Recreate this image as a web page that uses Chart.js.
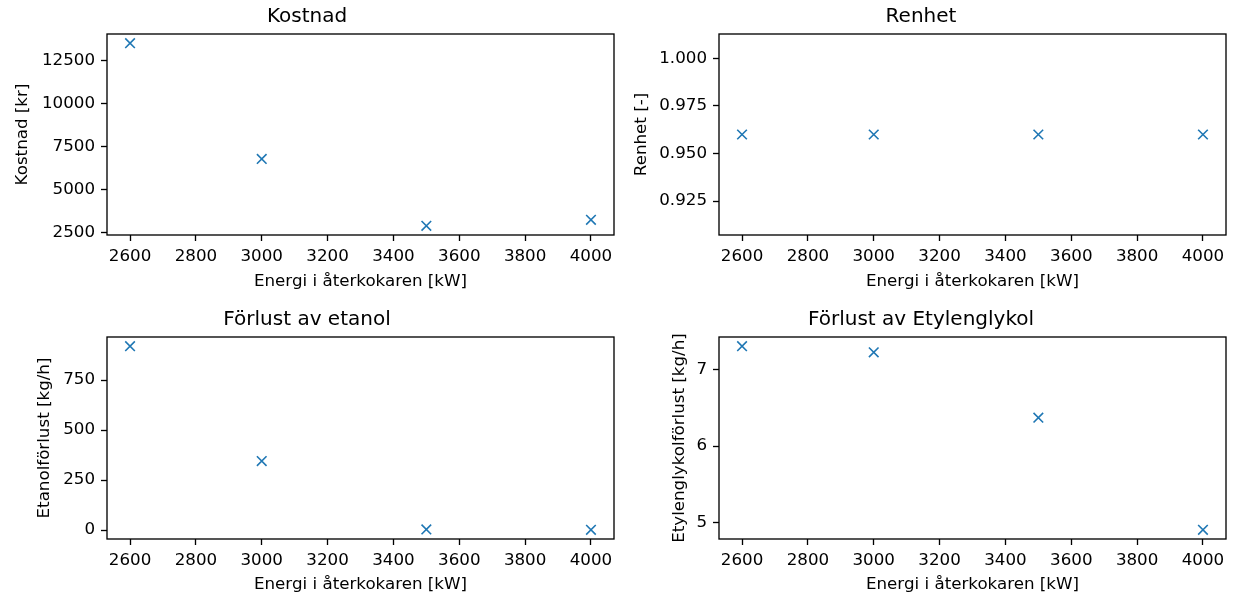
<!DOCTYPE html>
<html>
<head>
<meta charset="utf-8">
<script src="https://cdn.jsdelivr.net/npm/chart.js@4.4.0/dist/chart.umd.min.js"></script>
<style>
  body { margin: 0; background: #fff; width: 1233px; height: 598px; position: relative; overflow: hidden; }
  canvas { position: absolute; }
</style>
</head>
<body>
<canvas id="kostnad" width="616" height="299" style="left:0;top:0"></canvas>
<canvas id="renhet" width="617" height="299" style="left:616px;top:0"></canvas>
<canvas id="etanol" width="616" height="295" style="left:0;top:303px"></canvas>
<canvas id="glykol" width="617" height="295" style="left:616px;top:303px"></canvas>
<script>
// energy in the reboiler, shared x values for all four panels
const energi = [2600, 3000, 3500, 4000];
const kostnad = [13530, 6780, 2880, 3230];
const renhet = [0.96, 0.96, 0.96, 0.96];
const etanolForlust = [920, 345, 3, 1];
const glykolForlust = [7.30, 7.22, 6.37, 4.91];

const xTicks = [2600, 2800, 3000, 3200, 3400, 3600, 3800, 4000];
const kostnadTicks = [2500, 5000, 7500, 10000, 12500];
const renhetTicks = [0.925, 0.950, 0.975, 1.000];
const etanolTicks = [0, 250, 500, 750];
const glykolTicks = [5, 6, 7];

const FONT = 'DejaVu Sans';
const BLUE = '#1f77b4';

// axis limits with 5% margins, constant data widened first
function limits(vals) {
  let lo = Math.min(...vals), hi = Math.max(...vals);
  if (hi - lo < 1e-12) { lo -= 0.05 * Math.abs(lo); hi += 0.05 * Math.abs(hi); }
  const m = (hi - lo) * 0.05;
  return [lo - m, hi + m];
}

const frame = {
  id: 'frame',
  afterDraw(chart) {
    const { ctx, chartArea: a } = chart;
    ctx.save();
    ctx.strokeStyle = '#000';
    ctx.lineWidth = 1.33;
    ctx.strokeRect(a.left, a.top, a.right - a.left, a.bottom - a.top);
    ctx.restore();
  }
};

function panel(id, title, yLabel, values, yTicks, decimals, p) {
  const [xmin, xmax] = limits(energi);
  const [ymin, ymax] = limits(values);
  const tickFont = { family: FONT, size: 16.7 };
  new Chart(document.getElementById(id), {
    type: 'scatter',
    data: {
      datasets: [{
        data: energi.map((x, i) => ({ x: x, y: values[i] })),
        pointStyle: 'crossRot',
        pointRadius: 6.8,
        borderColor: BLUE,
        backgroundColor: BLUE,
        borderWidth: 1.6
      }]
    },
    options: {
      responsive: false,
      animation: false,
      devicePixelRatio: 1,
      events: [],
      layout: { autoPadding: false, padding: { left: 0, right: p.right, top: 0, bottom: 0 } },
      plugins: {
        legend: { display: false },
        tooltip: { enabled: false },
        title: {
          display: true,
          text: title,
          color: '#000',
          font: { family: FONT, size: 20, weight: 'normal', lineHeight: 1.2 },
          padding: { top: 5, bottom: 5 }
        }
      },
      scales: {
        x: {
          type: 'linear',
          min: xmin,
          max: xmax,
          afterBuildTicks: s => { s.ticks = xTicks.map(v => ({ value: v })); },
          afterFit: s => { s.height = p.xHeight; s.paddingLeft = 0; s.paddingRight = 0; },
          border: { display: false },
          grid: { drawOnChartArea: false, drawTicks: true, tickLength: 6, tickWidth: 1.33, tickColor: '#000' },
          ticks: { color: '#000', font: tickFont, padding: 6, maxRotation: 0, autoSkip: false, callback: v => String(v) },
          title: {
            display: true,
            text: 'Energi i återkokaren [kW]',
            color: '#000',
            font: { family: FONT, size: 16.7, lineHeight: 1.2 },
            padding: { top: 0, bottom: p.xPad }
          }
        },
        y: {
          type: 'linear',
          min: ymin,
          max: ymax,
          afterBuildTicks: s => { s.ticks = yTicks.map(v => ({ value: v })); },
          afterFit: s => { s.width = p.yWidth; s.paddingTop = 0; s.paddingBottom = 0; },
          border: { display: false },
          grid: { drawOnChartArea: false, drawTicks: true, tickLength: 6, tickWidth: 1.33, tickColor: '#000' },
          ticks: { color: '#000', font: tickFont, padding: 6, autoSkip: false, callback: v => v.toFixed(decimals) },
          title: {
            display: true,
            text: yLabel,
            color: '#000',
            font: { family: FONT, size: 16.7, lineHeight: 1.2 },
            padding: { top: p.yPad, bottom: 0 }
          }
        }
      }
    },
    plugins: [frame]
  });
}

panel('kostnad', 'Kostnad', 'Kostnad [kr]', kostnad, kostnadTicks, 0,
  { yWidth: 107, yPad: 13, xHeight: 64, xPad: 7.5, right: 2 });
panel('renhet', 'Renhet', 'Renhet [-]', renhet, renhetTicks, 3,
  { yWidth: 103, yPad: 16, xHeight: 64, xPad: 7.5, right: 7 });
panel('etanol', 'Förlust av etanol', 'Etanolförlust [kg/h]', etanolForlust, etanolTicks, 0,
  { yWidth: 107, yPad: 35, xHeight: 59, xPad: 3, right: 2 });
panel('glykol', 'Förlust av Etylenglykol', 'Etylenglykolförlust [kg/h]', glykolForlust, glykolTicks, 0,
  { yWidth: 103, yPad: 54, xHeight: 59, xPad: 3, right: 7 });
</script>
</body>
</html>
